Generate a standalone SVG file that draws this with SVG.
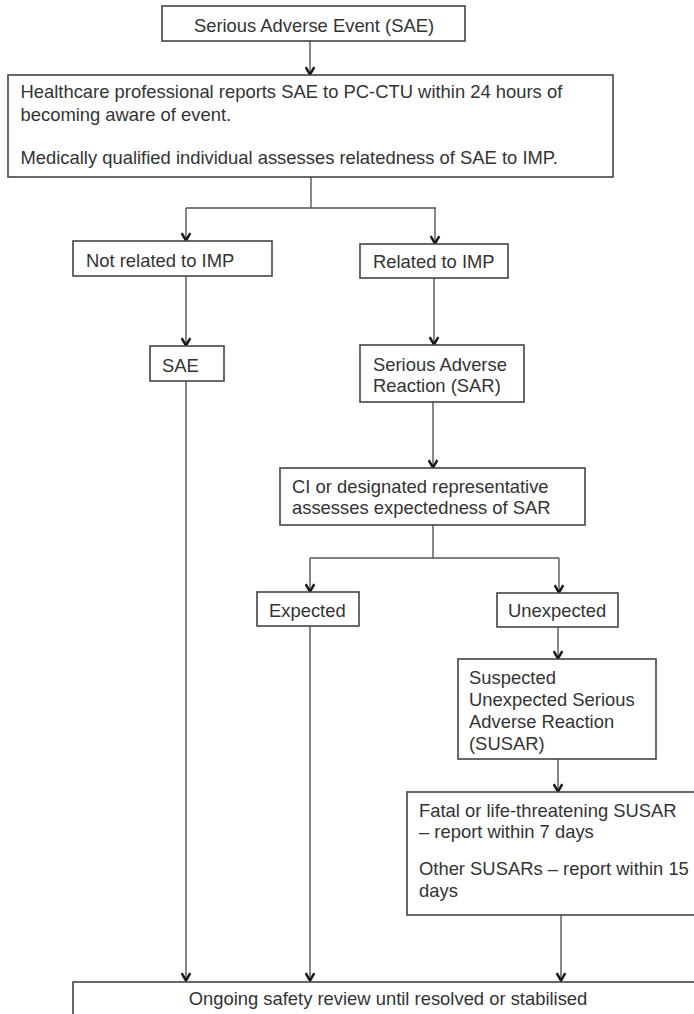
<svg xmlns="http://www.w3.org/2000/svg" width="694" height="1014" viewBox="0 0 694 1014">
<style>
.box{fill:#fff;stroke:#444;stroke-width:1.6}
.t{font-family:"Liberation Sans",Arial,sans-serif;font-size:18.4px;fill:#333}
.c{fill:none;stroke:#555;stroke-width:1.4}
.a{marker-end:url(#arr)}
</style>
<defs>
<marker id="arr" markerUnits="userSpaceOnUse" viewBox="0 0 10 11" markerWidth="10" markerHeight="11" refX="9" refY="5.5" orient="auto">
<path d="M1.2,1.2 L8.6,5.5 L1.2,9.8" fill="none" stroke="#151515" stroke-width="2.4" stroke-linejoin="miter"/>
</marker>
</defs>
<rect width="694" height="1014" fill="#fff"/>
<g id="connectors">
<path class="c a" d="M310,41 V75"/>
<path class="c" d="M311,177 V208 M186,208 H436"/>
<path class="c a" d="M186,208 V241"/>
<path class="c a" d="M435,208 V244"/>
<path class="c a" d="M186,276 V346"/>
<path class="c a" d="M434,278 V345"/>
<path class="c a" d="M186,381 V981"/>
<path class="c a" d="M433,402 V468"/>
<path class="c" d="M433,525 V558 M310,558 H559"/>
<path class="c a" d="M310,558 V592"/>
<path class="c a" d="M559,558 V593"/>
<path class="c a" d="M310,626 V981"/>
<path class="c a" d="M558,627 V659"/>
<path class="c a" d="M558,759 V792"/>
<path class="c a" d="M561,915 V981"/>
</g>
<g id="n-sae-top">
<rect class="box" x="162" y="6" width="303" height="35"/>
<text class="t" x="314" y="32" text-anchor="middle">Serious Adverse Event (SAE)</text>
</g>
<g id="n-report">
<rect class="box" x="8" y="75" width="605" height="102"/>
<text class="t" x="20.5" y="98">Healthcare professional reports SAE to PC-CTU within 24 hours of</text>
<text class="t" x="20.5" y="121">becoming aware of event.</text>
<text class="t" x="20.5" y="164">Medically qualified individual assesses relatedness of SAE to IMP.</text>
</g>
<g id="n-not-related">
<rect class="box" x="73" y="241" width="199" height="35"/>
<text class="t" x="86" y="267">Not related to IMP</text>
</g>
<g id="n-related">
<rect class="box" x="360" y="244" width="148" height="34"/>
<text class="t" x="373" y="268">Related to IMP</text>
</g>
<g id="n-sae">
<rect class="box" x="150" y="346" width="74" height="35"/>
<text class="t" x="162" y="372">SAE</text>
</g>
<g id="n-sar">
<rect class="box" x="360" y="345" width="164" height="57"/>
<text class="t" x="373" y="371">Serious Adverse</text>
<text class="t" x="373" y="392">Reaction (SAR)</text>
</g>
<g id="n-ci">
<rect class="box" x="280" y="468" width="305" height="57"/>
<text class="t" x="292" y="493">CI or designated representative</text>
<text class="t" x="292" y="514">assesses expectedness of SAR</text>
</g>
<g id="n-expected">
<rect class="box" x="257" y="592" width="102" height="34"/>
<text class="t" x="269" y="617">Expected</text>
</g>
<g id="n-unexpected">
<rect class="box" x="497" y="593" width="121" height="34"/>
<text class="t" x="508" y="617">Unexpected</text>
</g>
<g id="n-susar">
<rect class="box" x="458" y="659" width="198" height="100"/>
<text class="t" x="469" y="684">Suspected</text>
<text class="t" x="469" y="706">Unexpected Serious</text>
<text class="t" x="469" y="728">Adverse Reaction</text>
<text class="t" x="469" y="750">(SUSAR)</text>
</g>
<g id="n-fatal">
<rect class="box" x="407" y="792" width="300" height="123"/>
<text class="t" x="419" y="817">Fatal or life-threatening SUSAR</text>
<text class="t" x="419" y="838">– report within 7 days</text>
<text class="t" x="419" y="875">Other SUSARs – report within 15</text>
<text class="t" x="419" y="897">days</text>
</g>
<g id="n-ongoing">
<rect class="box" x="73" y="982" width="640" height="50"/>
<text class="t" x="388" y="1005" text-anchor="middle">Ongoing safety review until resolved or stabilised</text>
</g>
</svg>
